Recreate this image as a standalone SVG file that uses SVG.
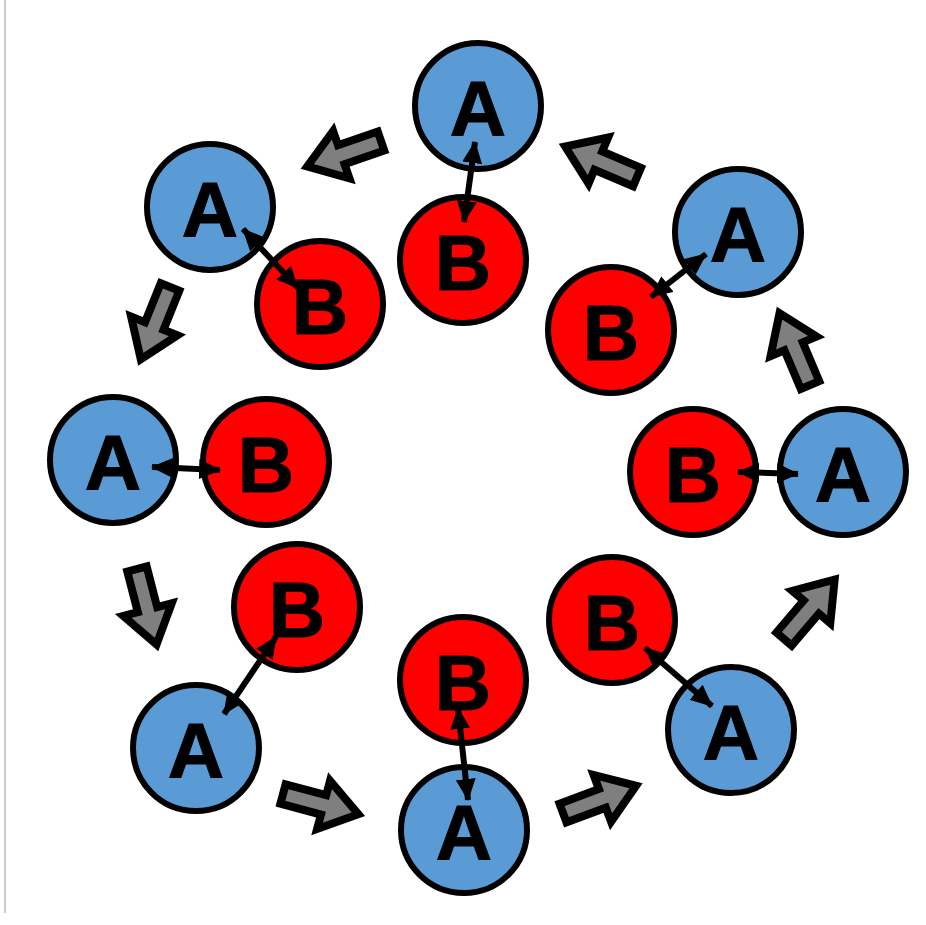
<svg xmlns="http://www.w3.org/2000/svg" width="926" height="925" viewBox="0 0 926 925">
<style>
.a{fill:#5B9BD5;stroke:#000;stroke-width:6}
.b{fill:#FF0000;stroke:#000;stroke-width:6}
.t{font-family:"Liberation Sans",Arial,sans-serif;font-weight:bold;font-size:78px;fill:#000;stroke:#000;stroke-width:1;text-anchor:middle}
.dl{stroke:#000;stroke-width:6;fill:none;marker-start:url(#h);marker-end:url(#h)}
.blk{fill:#7F7F7F;stroke:#000;stroke-width:8;stroke-linejoin:miter}
</style>
<defs>
<marker id="h" markerUnits="userSpaceOnUse" markerWidth="22" markerHeight="20" refX="21" refY="10" orient="auto-start-reverse" viewBox="0 0 22 20">
<path d="M0,0 L22,10 L0,20 Z" fill="#000"/>
</marker>
<path id="ba" d="M0,-10 L42,-10 L42,-25 L78,0 L42,25 L42,10 L0,10 Z"/>
</defs>
<rect width="926" height="925" fill="#fff"/>
<line x1="5" y1="0" x2="5" y2="913" stroke="#ccc" stroke-width="2"/>

<g id="flow">
<use href="#ba" class="blk" transform="translate(381,141) rotate(161)"/>
<use href="#ba" class="blk" transform="translate(637,177) rotate(203)"/>
<use href="#ba" class="blk" transform="translate(170,287) rotate(112)"/>
<use href="#ba" class="blk" transform="translate(137,569) rotate(75.5)"/>
<use href="#ba" class="blk" transform="translate(283,794) rotate(15)"/>
<use href="#ba" class="blk" transform="translate(563,813) rotate(-20.4)"/>
<use href="#ba" class="blk" transform="translate(784,639) rotate(-49.5)"/>
<use href="#ba" class="blk" transform="translate(810,385) rotate(-113)"/>
</g>

<g id="n1a"><circle class="a" cx="478" cy="106" r="63"/><text class="t" x="478" y="136">A</text></g>
<g id="n1b"><circle class="b" cx="463" cy="260" r="63"/><text class="t" x="463" y="290">B</text></g>
<g id="n2a"><circle class="a" cx="210" cy="207" r="63"/><text class="t" x="210" y="237">A</text></g>
<g id="n2b"><circle class="b" cx="320" cy="304" r="63"/><text class="t" x="320" y="334">B</text></g>
<g id="n3a"><circle class="a" cx="113" cy="460" r="63"/><text class="t" x="113" y="490">A</text></g>
<g id="n3b"><circle class="b" cx="266" cy="462" r="63"/><text class="t" x="266" y="492">B</text></g>
<g id="n4b"><circle class="b" cx="297" cy="607" r="63"/><text class="t" x="297" y="637">B</text></g>
<g id="n4a"><circle class="a" cx="196" cy="748" r="63"/><text class="t" x="196" y="778">A</text></g>
<g id="n5b"><circle class="b" cx="463" cy="680" r="63"/><text class="t" x="463" y="710">B</text></g>
<g id="n5a"><circle class="a" cx="464" cy="830" r="63"/><text class="t" x="464" y="860">A</text></g>
<g id="n6b"><circle class="b" cx="612" cy="620" r="63"/><text class="t" x="612" y="650">B</text></g>
<g id="n6a"><circle class="a" cx="731" cy="730" r="63"/><text class="t" x="731" y="760">A</text></g>
<g id="n7b"><circle class="b" cx="693" cy="472" r="63"/><text class="t" x="693" y="502">B</text></g>
<g id="n7a"><circle class="a" cx="843" cy="472" r="63"/><text class="t" x="843" y="502">A</text></g>
<g id="n8a"><circle class="a" cx="738" cy="232" r="63"/><text class="t" x="738" y="262">A</text></g>
<g id="n8b"><circle class="b" cx="611" cy="330" r="63"/><text class="t" x="611" y="360">B</text></g>

<g id="links">
<line class="dl" x1="475" y1="142" x2="464" y2="222"/>
<line class="dl" x1="243" y1="229" x2="298" y2="288"/>
<line class="dl" x1="152" y1="467" x2="220" y2="470"/>
<line class="dl" x1="276" y1="637" x2="224" y2="714"/>
<line class="dl" x1="458" y1="708" x2="468" y2="800"/>
<line class="dl" x1="645" y1="648" x2="712" y2="706"/>
<line class="dl" x1="738" y1="472" x2="798" y2="474"/>
<line class="dl" x1="706" y1="254" x2="651" y2="297"/>
</g>
</svg>
